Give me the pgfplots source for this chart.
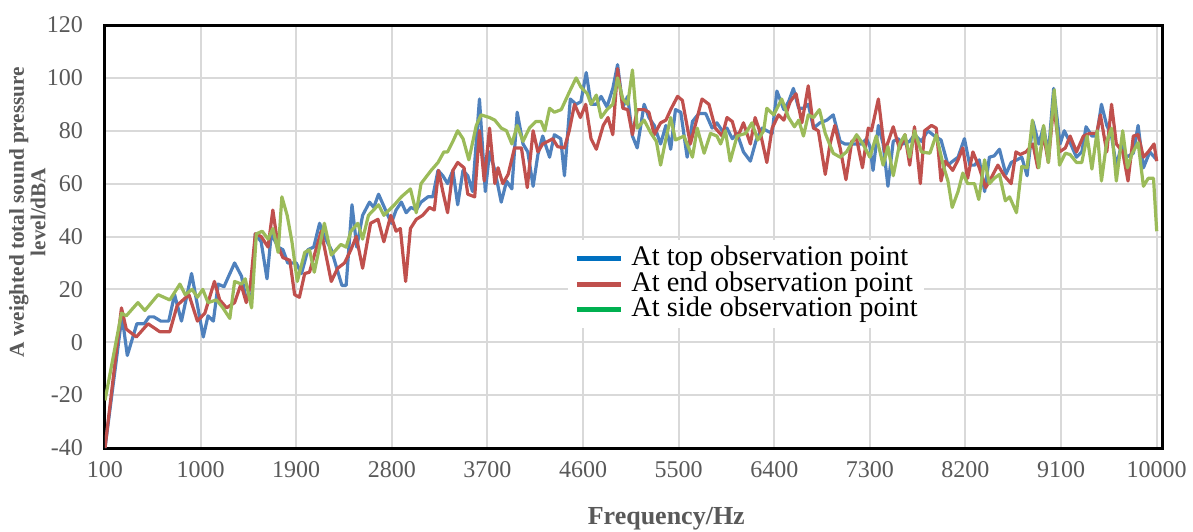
\documentclass[border=0pt]{standalone}
\usepackage{fontspec}
\setmainfont{Liberation Serif}
\usepackage{pgfplots}
\pgfplotsset{compat=1.18}
\usepackage{pgfplotstable}
\usetikzlibrary{calc}

\definecolor{topblue}{RGB}{79,129,189}
\definecolor{endred}{RGB}{192,80,77}
\definecolor{sidegreen}{RGB}{155,187,89}
\definecolor{legblue}{RGB}{0,112,192}
\definecolor{legred}{RGB}{192,80,77}
\definecolor{leggreen}{RGB}{0,176,80}
\definecolor{gridgray}{RGB}{217,217,217}
\definecolor{labelgray}{RGB}{89,89,89}

% top observation point
\pgfplotstableread{
x y
100 -40
260 10
310 -5
400 7
470 7
515 9.6
560 9.6
625 8
700 8
755 18
820 8
915 26
1025 2
1070 10
1120 8
1165 22
1220 21
1320 30
1385 25
1430 16
1480 17
1515 41
1570 38
1625 24
1665 41
1730 36
1775 35
1820 30
1900 30
1950 26
2010 35
2065 36
2120 45
2165 40
2230 35
2330 21.5
2370 21.5
2425 52
2470 36
2525 48
2590 53
2630 51
2675 56
2730 51
2795 45
2840 50
2890 53
2935 49
2980 51
3030 50
3075 53
3140 55
3185 55
3235 65
3280 63
3325 60
3375 65
3420 52
3470 65
3515 63
3560 57
3625 92
3680 57
3720 72
3770 65
3830 53
3880 61
3930 58
3980 87
4035 75
4080 72
4130 59
4175 71
4220 78
4285 70
4330 78.5
4390 77
4425 63
4480 92
4535 90
4580 91
4630 102
4675 90
4725 90
4770 93
4825 89
4880 96
4925 105
4975 89
5020 93
5065 78
5110 73.5
5175 90
5220 85
5270 82
5330 75
5380 82
5425 73
5470 88
5520 87
5580 70
5630 83.5
5690 86.5
5755 86.5
5815 81
5860 83
5910 80
5955 81
6005 77
6050 79
6110 72
6175 68.5
6230 76.5
6285 81
6330 80
6380 79
6425 95
6490 88
6535 91
6580 96
6630 88.5
6675 88.5
6720 90
6770 81
6830 83
6895 84
6955 86
7020 76
7065 75
7130 75
7175 75
7220 75
7270 77
7300 74
7330 65
7380 82
7425 75
7470 59
7520 76
7565 77
7615 75
7675 76
7720 78.5
7785 76
7845 80
7910 78
7970 76.5
8035 67
8080 68.5
8130 70
8190 77
8240 67
8285 67
8330 69
8380 57
8425 70
8470 70.5
8520 73
8580 63.5
8630 68
8685 69
8730 70
8780 63
8835 83.5
8890 75
8935 81.5
8980 71
9030 96
9090 75
9130 80
9185 75.5
9245 70
9295 72
9335 81.5
9390 78
9435 78
9480 90
9530 82
9575 78
9620 66.5
9670 75
9715 70
9780 71.5
9825 82
9875 66
9935 72
10000 69
}\toppoint

% end observation point
\pgfplotstableread{
x y
100 -40
255 13
300 5
395 2
505 7
615 4
710 4
780 14
890 18
970 8
1040 11
1130 23
1180 16
1245 13
1320 15
1380 22
1430 15
1470 22
1515 41
1570 40
1635 36
1680 50
1730 36
1775 32
1840 31
1885 18
1930 17
1980 26
2025 26.5
2135 42
2230 23
2290 28
2355 30
2415 35
2465 40
2525 28
2600 45
2670 46.5
2725 38
2790 48
2840 42
2880 43
2930 23
2975 43
3030 46.5
3090 48
3155 51
3200 50
3240 65
3280 57
3325 49
3375 65
3420 68
3480 66
3515 56
3580 55
3625 80
3670 61
3720 81
3770 60
3800 66
3845 60
3895 63.5
3955 73.5
4020 73.5
4075 58.5
4130 80
4175 72
4220 75
4270 76
4315 77
4360 74
4425 73.5
4470 80
4520 90
4575 85
4625 90
4675 77
4725 73
4790 82
4835 85
4880 78.5
4925 103.5
4975 88.5
5020 88
5065 78.5
5110 88
5175 88
5220 87
5270 78.5
5330 83
5380 84
5425 88
5490 93
5535 91.5
5610 75
5675 85
5720 92
5785 90
5845 81
5910 78
5955 85
6005 83.5
6050 77
6110 83
6175 75
6220 85
6270 79
6330 68
6380 81
6440 86
6490 84
6550 91
6605 94
6660 83
6720 97
6770 81
6815 80
6880 63.5
6925 75
6970 82
7020 73.5
7075 61.5
7130 76
7175 77
7230 66
7285 81
7315 80
7380 92
7440 72
7520 81.5
7580 73
7630 78.5
7675 67
7720 81.5
7775 60
7815 80
7880 82
7925 81
7970 61
8010 68.5
8080 65
8130 69
8175 73.5
8220 62
8270 72
8330 66
8390 58.5
8440 62
8505 67
8565 63
8630 60
8675 72
8715 71
8770 72
8835 75
8880 66
8935 78.5
8980 68
9030 90
9085 72
9140 73.5
9185 78
9245 72
9310 78
9370 79
9435 79
9470 86
9530 72
9575 90
9620 75
9680 72
9730 61
9780 78
9825 78.5
9875 70
9920 72
9975 75
10000 68.5
}\endpoint

% side observation point
\pgfplotstableread{
x y
100 -22
255 11
300 10
410 15
475 12
600 18
710 16
805 22
855 18
920 20
970 17
1020 20
1070 15
1150 16
1210 13
1275 9
1320 23
1385 22
1420 24
1480 13
1525 41
1580 42
1635 39
1680 43
1730 34
1765 55
1815 48
1860 38
1910 23
1980 34
2025 35
2070 26.5
2165 45
2230 33
2320 37
2370 36
2415 42
2480 45
2525 39
2580 48
2675 52
2725 48
2825 52
2890 55
2975 58
3030 49
3075 60
3170 65
3235 68
3290 72
3325 72
3375 76
3420 80
3470 77
3525 69
3595 82
3640 86
3720 85
3770 84
3830 81
3880 80
3930 75
3980 82
4035 76
4095 81
4155 83.5
4205 83.5
4240 80
4285 88.5
4330 87
4395 88
4475 95
4535 100
4580 96.5
4640 94
4675 90
4725 93.5
4770 85
4825 88
4880 90
4925 100
4975 92
5020 90
5065 103
5110 81
5175 84
5240 79
5290 76
5330 67
5380 77
5425 85
5470 76.5
5550 78
5630 70
5675 81
5740 71.5
5800 79
5860 78
5895 75
5940 80
5985 68.5
6050 78
6130 79
6190 83
6245 76.5
6300 80
6330 88.5
6395 86
6470 92
6535 85
6590 81.5
6630 84
6675 78
6720 86
6770 85
6825 88
6880 79
6955 71.5
7020 70
7080 72
7175 78.5
7235 75
7300 70
7360 78
7425 67
7470 74
7520 63
7580 75
7630 78.5
7675 70
7720 80
7785 72
7865 71.5
7925 78.5
7990 67
8035 61
8075 51
8130 57
8175 64
8220 60
8285 60
8325 54
8380 69
8425 60
8470 62
8520 63.5
8575 53.5
8615 55
8680 49
8730 66.5
8780 66
8830 84
8890 66
8935 82
8980 68
9035 95.5
9085 67
9140 71.5
9185 71
9245 68
9295 68
9345 78
9390 65.5
9440 80
9480 61
9530 76
9575 81
9620 61
9680 80
9725 66
9770 71.5
9825 75.5
9875 59
9920 62
9970 62
10000 42
}\sidepoint

\begin{document}
\begin{tikzpicture}
\begin{axis}[
    width=528.5pt, height=211.5pt,
    scale only axis,
    xmin=100, xmax=10050,
    ymin=-40, ymax=120,
    xtick={100,1000,...,10000},
    ytick={-40,-20,...,120},
    scaled x ticks=false,
    /pgf/number format/.cd, fixed, precision=0, 1000 sep={}, assume math mode=true,
    /pgfplots/.cd,
    grid=major,
    major grid style={color=gridgray, line width=1pt},
    axis line style={black, line width=1.5pt},
    tick style={draw=none},
    ticklabel style={font=\fontsize{12}{13}\selectfont, text=labelgray},
    xticklabel style={yshift=-3pt},
    yticklabel style={xshift=-7.5pt},
    xlabel={Frequency/Hz},
    xlabel style={at={(axis description cs:0.531,-0.168)}, anchor=center,
        font=\bfseries\fontsize{13}{14}\selectfont, text=labelgray},
    ylabel={A weighted total sound pressure\\level/dBA},
    ylabel style={at={(axis description cs:-0.0735,0.558)}, anchor=center,
        align=center, font=\bfseries\fontsize{10.6}{8.5}\selectfont, text=labelgray},
    legend image code/.code={\draw[#1, line width=2.5pt] (0pt,0pt) -- (22pt,0pt);},
    legend cell align=left,
    legend style={at={(axis description cs:0.438,0.492)}, anchor=north west,
        draw=none, fill=white, inner xsep=3pt, inner ysep=3pt,
        font=\fontsize{14.2}{12}\selectfont, row sep=0pt,
        nodes={inner sep=0pt, text height=9.8pt, text depth=2.9pt},
        /tikz/every odd column/.append style={column sep=4pt}},
]
\addplot[topblue, line width=1.6pt, line join=round, forget plot] table {\toppoint};
\addplot[endred, line width=1.6pt, line join=round, forget plot] table {\endpoint};
\addplot[sidegreen, line width=1.6pt, line join=round, forget plot] table {\sidepoint};
\addlegendimage{legblue}
\addlegendentry{At top observation point}
\addlegendimage{legred}
\addlegendentry{At end observation point}
\addlegendimage{leggreen}
\addlegendentry{At side observation point}
\coordinate (ll) at (rel axis cs:0,0);
\coordinate (ur) at (rel axis cs:1,1);
\end{axis}
\pgfresetboundingbox
\path ($(ll)+(-52.5pt,-41.5pt)$) rectangle ($(ur)+(15.5pt,12.5pt)$);
\end{tikzpicture}
\end{document}
